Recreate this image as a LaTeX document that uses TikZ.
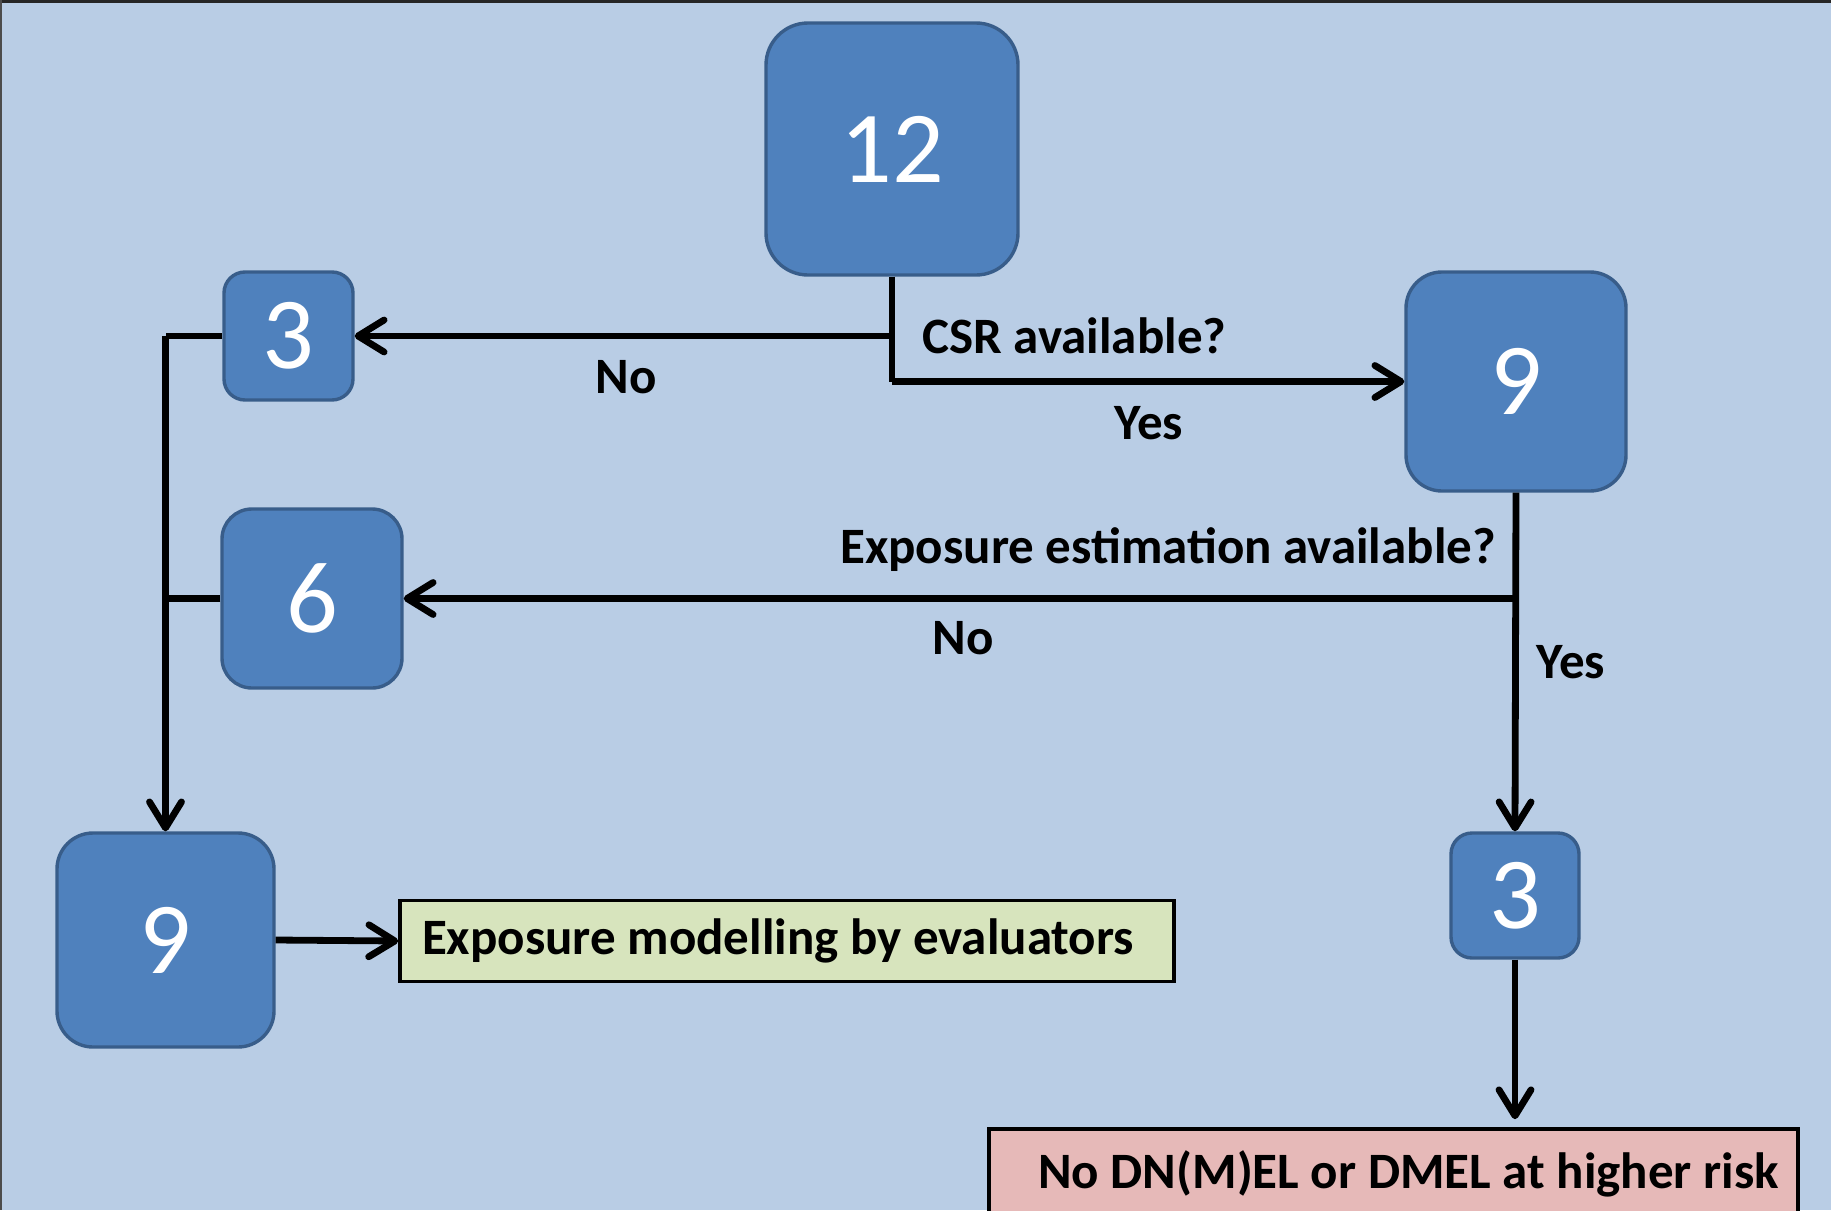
\documentclass[tikz,border=0pt]{standalone}
\usepackage{fontspec}
\setmainfont{Carlito}
\usetikzlibrary{arrows.meta}
\definecolor{bgblue}{HTML}{B9CDE5}
\definecolor{boxblue}{HTML}{4F81BD}
\definecolor{boxedge}{HTML}{385D8A}
\definecolor{greenbox}{HTML}{D7E4BD}
\definecolor{pinkbox}{HTML}{E6B9B8}
\tikzset{
  numbox/.style={draw=boxedge, fill=boxblue, line width=1.7pt, text=white,
    font=\fontsize{51}{60}\selectfont, inner sep=0pt},
  conn/.style={line width=3.4pt, draw=black},
  arr/.style={conn, -{Straight Barb[length=13pt,width=16pt,line cap=round,line join=round]}},
  lbl/.style={font=\bfseries\fontsize{25.5}{30}\selectfont, inner sep=0pt},
  resultbox/.style={draw=black, line width=1.8pt, inner sep=0pt,
    font=\bfseries\fontsize{25.5}{30}\selectfont}
}
\begin{document}
\begin{tikzpicture}[x=0.5pt,y=-0.5pt]
\useasboundingbox (0,0) rectangle (1831,1210);
\fill[bgblue] (0,0) rectangle (1831,1210);
\fill[black!85] (0,0) rectangle (1831,3);
\fill[black!70] (0,0) rectangle (2,1210);

% numbered boxes
\node[numbox, minimum width=126pt, minimum height=126pt, rounded corners=21pt] (b12) at (892,149) {12};
\node[numbox, minimum width=64.5pt, minimum height=64pt, rounded corners=10.5pt] (b3a) at (288.5,336) {3};
\node[numbox, minimum width=110pt, minimum height=109.5pt, rounded corners=18pt] (b9a) at (1516,381.5) {9};
\node[numbox, minimum width=90pt, minimum height=89.5pt, rounded corners=15pt] (b6) at (312,598.5) {6};
\node[numbox, minimum width=108.5pt, minimum height=107pt, rounded corners=18pt] (b9b) at (165.5,940) {9};
\node[numbox, minimum width=64pt, minimum height=62.5pt, rounded corners=10.5pt] (b3b) at (1515,895.5) {3};

% result boxes
\node[resultbox, fill=greenbox, minimum width=387pt, minimum height=40.5pt] (green) at (787,941) {Exposure modelling by evaluators\hspace*{9pt}};
\node[resultbox, fill=pinkbox, minimum width=404.5pt, minimum height=45pt] (pink) at (1393.5,1174) {\hspace*{15pt}No DN(M)EL or DMEL at higher risk};

% connectors
\draw[conn] (b12.south) -- (b12.south |- b9a.west) coordinate (c1);
\draw[arr] (c1) -- (b9a.west);
\draw[arr] (b12.south |- b3a.east) -- (b3a.east);
\draw[arr] (b9a.south) -- (b3b.north);
\draw[arr] (b9a.south |- b6.east) -- (b6.east);
\draw[conn] (b3a.west) -- (b9b.north |- b3a.west) coordinate (c2);
\draw[arr] (c2) -- (b9b.north);
\draw[conn] (b6.west) -- (b9b.north |- b6.west);
\draw[arr] (b9b.east) -- (green.west);
\draw[arr, shorten >=4pt] (b3b.south) -- (b3b.south |- pink.north);

% labels
\node[lbl, anchor=west] (qcsr) at (922,336) {CSR available?};
\node[lbl] (no1) at (626,377) {No};
\node[lbl] (yes1) at (1149,423) {Yes};
\node[lbl] (qexp) at (1168,550) {Exposure estimation available?};
\node[lbl] (no2) at (963,638) {No};
\node[lbl] (yes2) at (1571,662) {Yes};
\end{tikzpicture}
\end{document}
